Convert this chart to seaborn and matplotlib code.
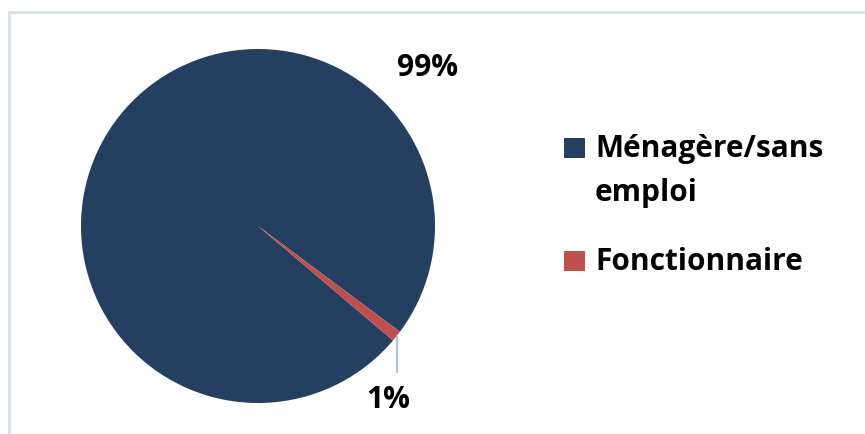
import matplotlib
matplotlib.use("Agg")
import matplotlib.pyplot as plt
from matplotlib.patches import Rectangle
import numpy as np
import seaborn as sns

# Répartition par profession
categories = ["Ménagère/sans\nemploi", "Fonctionnaire"]
values = [99, 1]
value_labels = ["99%", "1%"]
colors = ["#253F61", "#C0504D"]

sns.set_theme(style="white")
plt.rcParams["font.family"] = ["Open Sans", "DejaVu Sans"]

W, H = 865, 434
fig = plt.figure(figsize=(W / 100, H / 100), dpi=100)
ax = fig.add_axes([0, 0, 1, 1])
ax.set_xlim(0, W)
ax.set_ylim(0, H)
ax.set_aspect("equal")
ax.axis("off")

# Chart frame
ax.add_patch(Rectangle((8.5, -10), W + 20, H - 11.5 + 10, fill=False,
                       edgecolor="#D6E0F0", linewidth=2.0))

cx, cy, r = 258, H - 226, 177
wedges, _ = ax.pie(values, colors=colors, startangle=-40.3, counterclock=False,
                   center=(cx, cy), radius=r, frame=True,
                   wedgeprops=dict(linewidth=0))
ax.set_xlim(0, W)
ax.set_ylim(0, H)
ax.axis("off")

# Data labels
label_pos = [(428, H - 76), (388, H - 408)]
for txt, (lx, ly) in zip(value_labels, label_pos):
    ax.text(lx, ly, txt, ha="center", va="baseline", fontsize=21.5,
            fontweight="bold", color="black")

# Leader line for the small slice
w = wedges[1]
mid = np.deg2rad((w.theta1 + w.theta2) / 2)
px, py = cx + r * np.cos(mid), cy + r * np.sin(mid)
ax.plot([px, px], [py, H - 372], color="#A7C4EA", linewidth=1.5)

# Legend: one swatch per category, wrapped label lines 44 px apart
legend_y = [H - 148, H - 261]
for lab, col, ly in zip(categories, colors, legend_y):
    ax.add_patch(Rectangle((564, ly - 10), 21, 20, facecolor=col, edgecolor="none"))
    for i, line in enumerate(lab.split("\n")):
        ax.text(595, ly - 9 - 44 * i, line, ha="left", va="baseline",
                fontsize=21.5, fontweight="bold", color="black")

fig.savefig("out.png", dpi=100)
